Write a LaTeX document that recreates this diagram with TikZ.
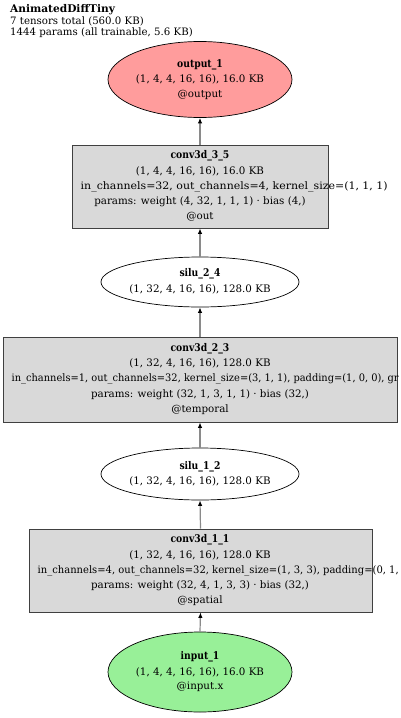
\documentclass[tikz,border=0pt]{standalone}
\usepackage{fontspec}
\setmainfont{DejaVu Serif}
\newfontfamily\ttlfam{DejaVu Serif}[FakeStretch=0.87]
\usetikzlibrary{shapes.geometric,arrows.meta}
\definecolor{boxgray}{HTML}{D9D9D9}
\definecolor{outred}{HTML}{FF9C9C}
\definecolor{ingreen}{HTML}{98F098}
\definecolor{edgegray}{HTML}{8A8A8A}
\tikzset{
  opbox/.style={rectangle, draw=black!75, fill=boxgray, line width=0.8pt, inner sep=0pt},
  tensor/.style={ellipse, draw=black, line width=0.7pt, inner sep=0pt},
  txt/.style={inner sep=0pt, font=\fontsize{10.3}{12}\selectfont},
  ttl/.style={txt, font=\fontsize{10.6}{12}\selectfont\ttlfam\bfseries},
  longline/.style={txt, anchor=west},
  hdr/.style={inner sep=0pt, anchor=west, font=\fontsize{10.2}{11}\selectfont},
  hdrttl/.style={hdr, font=\fontsize{10.6}{11}\selectfont\bfseries},
  flow/.style={draw=edgegray, line width=1.2pt, -{Latex[length=5.5pt,width=4.5pt,color=black]}},
}
\newcommand{\fitw}[2]{\resizebox{#1}{\height}{#2}}
\begin{document}
\begin{tikzpicture}[x=1pt,y=-1pt]
\useasboundingbox (0,0) rectangle (400,718);
% header
\node[hdrttl] (h1) at (10,10) {AnimatedDiffTiny};
\node[hdr] (h2) at (10,21.5) {7 tensors total (560.0 KB)};
\node[hdr] (h3) at (10,32.5) {1444 params (all trainable, 5.6 KB)};
% nodes
\node[tensor, fill=outred, minimum width=184pt, minimum height=76pt] (out1) at (200,79.5) {};
\node[ttl] (out1a) at (200,64.5) {output\_1};
\node[txt] (out1b) at (200,79.5) {(1, 4, 4, 16, 16), 16.0 KB};
\node[txt] (out1c) at (200,94.5) {@output};

\node[opbox, minimum width=256pt, minimum height=83pt] (c35) at (200,186.5) {};
\node[ttl] (c35a) at (200,156.1) {conv3d\_3\_5};
\node[txt] (c35b) at (200,171.3) {(1, 4, 4, 16, 16), 16.0 KB};
\node[longline] (c35c) at (80.5,186.5) {\fitw{307pt}{in\_channels=32, out\_channels=4, kernel\_size=(1, 1, 1)}};
\node[txt] (c35d) at (200,201.7) {params: weight (4, 32, 1, 1, 1) · bias (4,)};
\node[txt] (c35e) at (200,216.9) {@out};

\node[tensor, fill=white, minimum width=198pt, minimum height=50pt] (s24) at (200,282) {};
\node[ttl] (s24a) at (200,274) {silu\_2\_4};
\node[txt] (s24b) at (200,289) {(1, 32, 4, 16, 16), 128.0 KB};

\node[opbox, minimum width=394pt, minimum height=85pt] (c23) at (200,379.5) {};
\node[ttl] (c23a) at (200,348.5) {conv3d\_2\_3};
\node[txt] (c23b) at (200,363.7) {(1, 32, 4, 16, 16), 128.0 KB};
\node[longline] (c23c) at (11.5,379) {\fitw{387pt}{in\_channels=1, out\_channels=32, kernel\_size=(3, 1, 1), padding=(1, 0, 0), gr}};
\node[txt] (c23d) at (200,394.5) {params: weight (32, 1, 3, 1, 1) · bias (32,)};
\node[txt] (c23e) at (200,409.7) {@temporal};

\node[tensor, fill=white, minimum width=198pt, minimum height=52pt] (s12) at (200,474) {};
\node[ttl] (s12a) at (200,466.5) {silu\_1\_2};
\node[txt] (s12b) at (200,481.5) {(1, 32, 4, 16, 16), 128.0 KB};

\node[opbox, minimum width=343pt, minimum height=83pt] (c11) at (200.5,570.5) {};
\node[ttl] (c11a) at (200,540.1) {conv3d\_1\_1};
\node[txt] (c11b) at (200,555.3) {(1, 32, 4, 16, 16), 128.0 KB};
\node[longline] (c11c) at (37.5,570.5) {\fitw{361pt}{in\_channels=4, out\_channels=32, kernel\_size=(1, 3, 3), padding=(0, 1,}};
\node[txt] (c11d) at (200,585.7) {params: weight (32, 4, 1, 3, 3) · bias (32,)};
\node[txt] (c11e) at (200,600.9) {@spatial};

\node[tensor, fill=ingreen, minimum width=184pt, minimum height=80pt] (in1) at (200,672) {};
\node[ttl] (in1a) at (200,657) {input\_1};
\node[txt] (in1b) at (200,672) {(1, 4, 4, 16, 16), 16.0 KB};
\node[txt] (in1c) at (200,687) {@input.x};
% edges
\draw[flow] (in1.north) -- (c11.south);
\draw[flow] (c11.north) -- (s12.south);
\draw[flow] (s12.north) -- (c23.south);
\draw[flow] (c23.north) -- (s24.south);
\draw[flow] (s24.north) -- (c35.south);
\draw[flow] (c35.north) -- (out1.south);
\end{tikzpicture}
\end{document}
